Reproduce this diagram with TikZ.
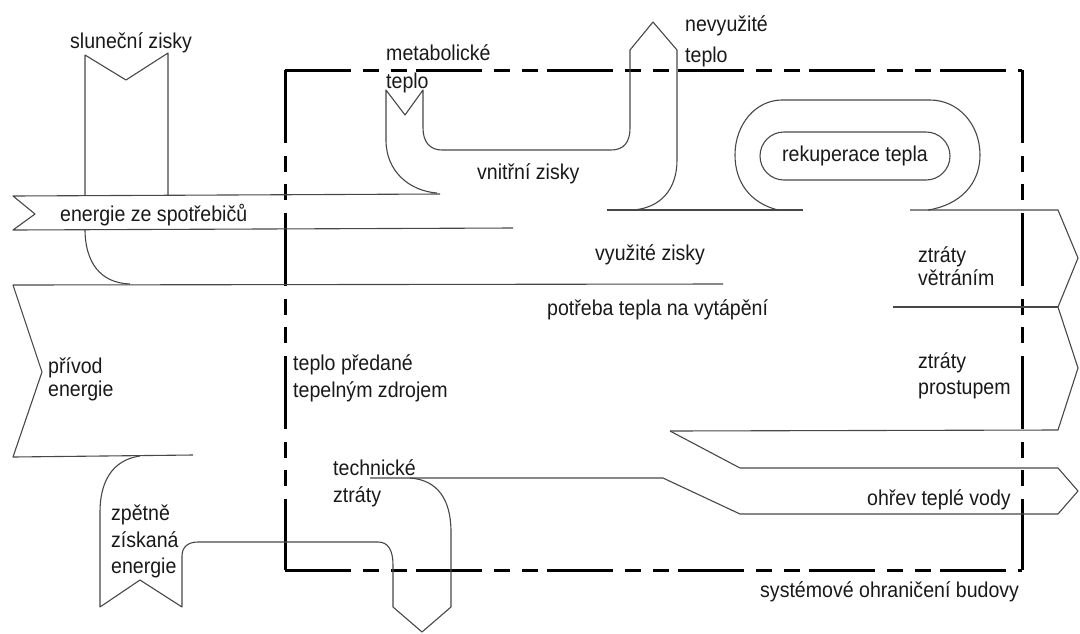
\documentclass[tikz,border=0pt]{standalone}
\usepackage{fontspec}
\setmainfont{Liberation Sans}[FakeStretch=0.91]
\begin{document}
\begin{tikzpicture}[x=1pt,y=-1pt,
  flow/.style={line width=1.1pt, draw=black!72, line join=round},
  boundh/.style={line width=3pt, draw=black, dash pattern=on 66pt off 12pt on 16pt off 12pt on 16pt off 9pt},
  boundv/.style={line width=3pt, draw=black, dash pattern=on 73pt off 13pt on 16pt off 12pt on 16pt off 13pt},
  lbl/.style={font=\fontsize{21.5}{24}\selectfont, text=black!90, inner sep=0pt, anchor=base west}]
\useasboundingbox (0,0) rectangle (1080,633);
% system boundary
\coordinate (bTL) at (285,70);
\coordinate (bTR) at (1022,70);
\coordinate (bBL) at (285,570);
\coordinate (bBR) at (1022,570);
\draw[boundh] (bTL) -- (bTR);
\draw[boundh] (bBL) -- (bBR);
\draw[boundv] (bTL) -- (bBL);
\draw[boundv] (bTR) -- (bBR);
% solar gains
\draw[flow] (85,195) -- (85,55) -- (126,80) -- (168,53) -- (168,195);
\draw[flow] (85,229) .. controls (85,262) and (100,283) .. (130,284);
% appliances band
\draw[flow] (440,194) -- (13,196) -- (35,214) -- (13,230) -- (513,228);
% energy supply band
\draw[flow] (723,284) -- (13,285) -- (42,372) -- (13,457) -- (193,455);
% recovered energy + technical losses
\draw[flow] (140,456) .. controls (112,460) and (100,482) .. (100,512) -- (100,607)
  -- (140,580) -- (182,607) -- (182,556) .. controls (182,547) and (188,542) .. (198,542)
  -- (378,542) .. controls (388,542) and (393,550) .. (393,565) -- (393,607)
  -- (422,632) -- (451,607) -- (451,532) .. controls (451,500) and (438,480) .. (410,478);
\draw[flow] (370,478) -- (663,478) -- (740,514) -- (1058,514);
% hot water
\draw[flow] (670,431) -- (740,468) -- (1058,468) -- (1078,491) -- (1058,514);
% transmission
\draw[flow] (670,431) -- (1058,430) -- (1078,368) -- (1058,307);
\draw[flow] (893,307) -- (1058,307);
% ventilation
\draw[flow] (910,210) -- (1058,210) -- (1078,258) -- (1058,307);
% used gains top
\draw[flow] (607,210) -- (803,210);
% metabolic / internal gains / unused heat
\draw[flow] (437,193) .. controls (410,191) and (386,172) .. (386,140) -- (386,90)
  -- (405,115) -- (423,90) -- (423,128) .. controls (423,142) and (430,150) .. (442,150)
  -- (611,150) .. controls (624,150) and (630,142) .. (630,128) -- (630,50)
  -- (653,22) -- (677,50) -- (677,160) .. controls (677,190) and (660,208) .. (633,210);
% recuperation loop
\draw[flow] (778,210) .. controls (750,203) and (735,182) .. (735,155)
  .. controls (735,124) and (756,100) .. (782,100) -- (930,100)
  .. controls (958,100) and (980,124) .. (980,155)
  .. controls (980,184) and (960,205) .. (928,210);
\node[draw=black!72, line width=1.1pt, rounded corners=24pt, minimum width=190pt,
  minimum height=48pt, inner sep=0pt, font=\fontsize{21.5}{24}\selectfont, text=black!90]
  (rk) at (855,156) {rekuperace tepla};
% labels
\node[lbl] (sz) at (70,48) {sluneční zisky};
\node[lbl] (mt1) at (386,60) {metabolické};
\node[lbl] (mt2) at (386,88) {teplo};
\node[lbl] (nv1) at (685,31) {nevyužité};
\node[lbl] (nv2) at (685,62) {teplo};
\node[lbl] (vz) at (477,179) {vnitřní zisky};
\node[lbl] (es) at (60,221) {energie ze spotřebičů};
\node[lbl] (vyz) at (595,260) {využité zisky};
\node[lbl] (pt) at (547,315) {potřeba tepla na vytápění};
\node[lbl] (pe1) at (48,373) {přívod};
\node[lbl] (pe2) at (48,396) {energie};
\node[lbl] (tp1) at (293,370) {teplo předané};
\node[lbl] (tp2) at (293,397) {tepelným zdrojem};
\node[lbl] (zv1) at (918,262) {ztráty};
\node[lbl] (zv2) at (918,285) {větráním};
\node[lbl] (zp1) at (918,368) {ztráty};
\node[lbl] (zp2) at (918,394) {prostupem};
\node[lbl] (ov) at (867,505) {ohřev teplé vody};
\node[lbl] (tz1) at (333,475) {technické};
\node[lbl] (tz2) at (333,502) {ztráty};
\node[lbl] (ze1) at (111,520) {zpětně};
\node[lbl] (ze2) at (111,547) {získaná};
\node[lbl] (ze3) at (111,573) {energie};
\node[lbl] (so) at (760,597) {systémové ohraničení budovy};
\end{tikzpicture}
\end{document}
